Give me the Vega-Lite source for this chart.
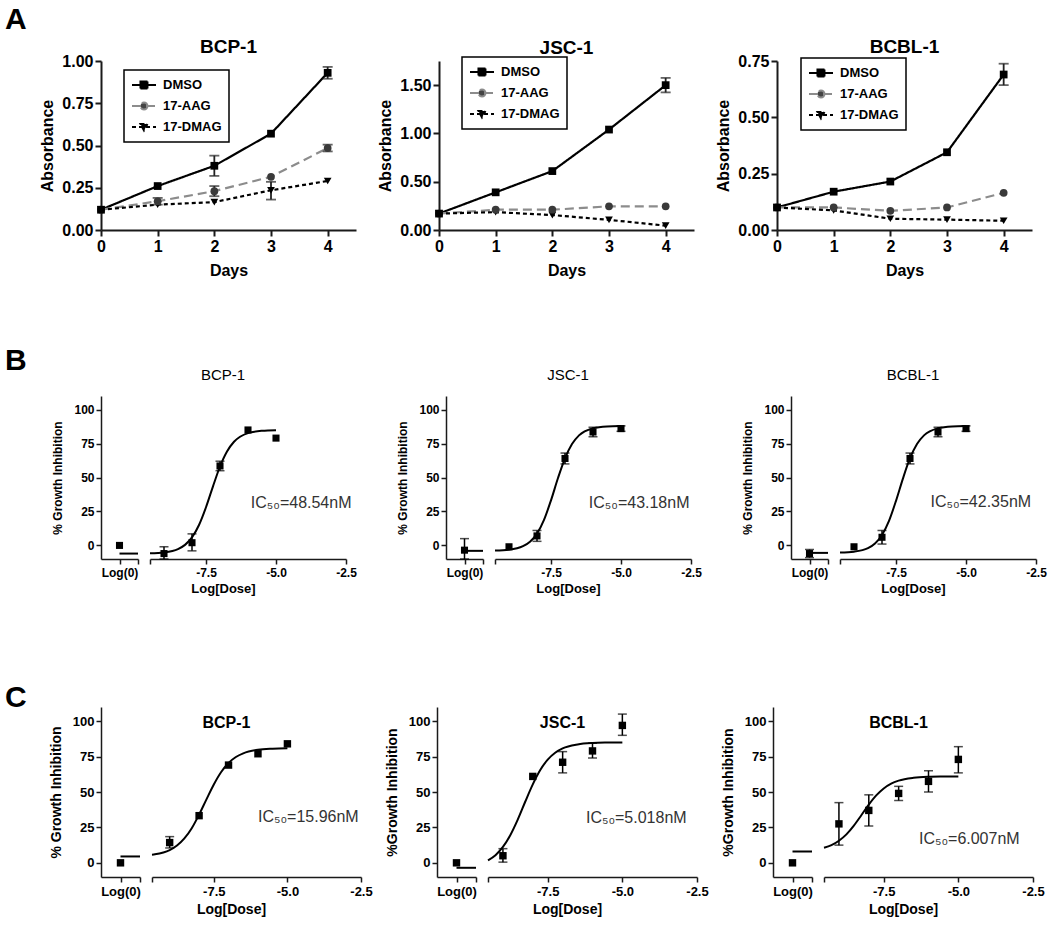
{
  "$schema": "https://vega.github.io/schema/vega-lite/v6.json",
  "background": "white",
  "padding": {"left": 5, "top": 5, "right": 5, "bottom": 5},
  "config": {
    "font": "Liberation Sans",
    "view": {"stroke": null},
    "axis": {"grid": false, "domainColor": "#1a1a1a", "tickColor": "#1a1a1a", "labelColor": "black", "titleColor": "black", "labelFontWeight": "bold", "titleFontWeight": "bold", "labelFlush": false, "labelOverlap": false},
    "title": {"color": "black", "font": "Liberation Sans"},
    "legend": {"labelFont": "Liberation Sans"}
  },
  "datasets": {
    "growth": [
      {"cell": "BCP-1", "trt": "DMSO", "day": 0, "abs": 0.12},
      {"cell": "BCP-1", "trt": "DMSO", "day": 1, "abs": 0.26},
      {"cell": "BCP-1", "trt": "DMSO", "day": 2, "abs": 0.38, "lo": 0.32, "hi": 0.44},
      {"cell": "BCP-1", "trt": "DMSO", "day": 3, "abs": 0.57},
      {"cell": "BCP-1", "trt": "DMSO", "day": 4, "abs": 0.93, "lo": 0.895, "hi": 0.965},
      {"cell": "BCP-1", "trt": "17-AAG", "day": 0, "abs": 0.12},
      {"cell": "BCP-1", "trt": "17-AAG", "day": 1, "abs": 0.17, "lo": 0.15, "hi": 0.19},
      {"cell": "BCP-1", "trt": "17-AAG", "day": 2, "abs": 0.23, "lo": 0.2, "hi": 0.26},
      {"cell": "BCP-1", "trt": "17-AAG", "day": 3, "abs": 0.315},
      {"cell": "BCP-1", "trt": "17-AAG", "day": 4, "abs": 0.485, "lo": 0.465, "hi": 0.505},
      {"cell": "BCP-1", "trt": "17-DMAG", "day": 0, "abs": 0.12},
      {"cell": "BCP-1", "trt": "17-DMAG", "day": 1, "abs": 0.15},
      {"cell": "BCP-1", "trt": "17-DMAG", "day": 2, "abs": 0.165},
      {"cell": "BCP-1", "trt": "17-DMAG", "day": 3, "abs": 0.235, "lo": 0.18, "hi": 0.285},
      {"cell": "BCP-1", "trt": "17-DMAG", "day": 4, "abs": 0.29},
      {"cell": "JSC-1", "trt": "DMSO", "day": 0, "abs": 0.17},
      {"cell": "JSC-1", "trt": "DMSO", "day": 1, "abs": 0.39},
      {"cell": "JSC-1", "trt": "DMSO", "day": 2, "abs": 0.61},
      {"cell": "JSC-1", "trt": "DMSO", "day": 3, "abs": 1.04},
      {"cell": "JSC-1", "trt": "DMSO", "day": 4, "abs": 1.5, "lo": 1.425, "hi": 1.575},
      {"cell": "JSC-1", "trt": "17-AAG", "day": 0, "abs": 0.17},
      {"cell": "JSC-1", "trt": "17-AAG", "day": 1, "abs": 0.21},
      {"cell": "JSC-1", "trt": "17-AAG", "day": 2, "abs": 0.21},
      {"cell": "JSC-1", "trt": "17-AAG", "day": 3, "abs": 0.245},
      {"cell": "JSC-1", "trt": "17-AAG", "day": 4, "abs": 0.245},
      {"cell": "JSC-1", "trt": "17-DMAG", "day": 0, "abs": 0.17},
      {"cell": "JSC-1", "trt": "17-DMAG", "day": 1, "abs": 0.185},
      {"cell": "JSC-1", "trt": "17-DMAG", "day": 2, "abs": 0.155},
      {"cell": "JSC-1", "trt": "17-DMAG", "day": 3, "abs": 0.105},
      {"cell": "JSC-1", "trt": "17-DMAG", "day": 4, "abs": 0.045},
      {"cell": "BCBL-1", "trt": "DMSO", "day": 0, "abs": 0.1},
      {"cell": "BCBL-1", "trt": "DMSO", "day": 1, "abs": 0.17},
      {"cell": "BCBL-1", "trt": "DMSO", "day": 2, "abs": 0.215},
      {"cell": "BCBL-1", "trt": "DMSO", "day": 3, "abs": 0.345},
      {"cell": "BCBL-1", "trt": "DMSO", "day": 4, "abs": 0.69, "lo": 0.643, "hi": 0.738},
      {"cell": "BCBL-1", "trt": "17-AAG", "day": 0, "abs": 0.1},
      {"cell": "BCBL-1", "trt": "17-AAG", "day": 1, "abs": 0.1},
      {"cell": "BCBL-1", "trt": "17-AAG", "day": 2, "abs": 0.085},
      {"cell": "BCBL-1", "trt": "17-AAG", "day": 3, "abs": 0.1},
      {"cell": "BCBL-1", "trt": "17-AAG", "day": 4, "abs": 0.165},
      {"cell": "BCBL-1", "trt": "17-DMAG", "day": 0, "abs": 0.1},
      {"cell": "BCBL-1", "trt": "17-DMAG", "day": 1, "abs": 0.087},
      {"cell": "BCBL-1", "trt": "17-DMAG", "day": 2, "abs": 0.05},
      {"cell": "BCBL-1", "trt": "17-DMAG", "day": 3, "abs": 0.046},
      {"cell": "BCBL-1", "trt": "17-DMAG", "day": 4, "abs": 0.041}
    ],
    "zero": [
      {"panel": "B", "cell": "BCP-1", "y": 0, "fit": -6},
      {"panel": "B", "cell": "JSC-1", "y": -3.5, "lo": -10, "hi": 5, "fit": -4},
      {"panel": "B", "cell": "BCBL-1", "y": -6, "lo": -9, "hi": -3, "fit": -5.5},
      {"panel": "C", "cell": "BCP-1", "y": 0, "fit": 4.5},
      {"panel": "C", "cell": "JSC-1", "y": 0, "fit": -3.5},
      {"panel": "C", "cell": "BCBL-1", "y": 0, "fit": 8}
    ],
    "dose": [
      {"panel": "B", "cell": "BCP-1", "logdose": -9, "y": -6, "lo": -10, "hi": -1},
      {"panel": "B", "cell": "BCP-1", "logdose": -8, "y": 2, "lo": -4, "hi": 8.5},
      {"panel": "B", "cell": "BCP-1", "logdose": -7, "y": 58.5, "lo": 55, "hi": 62},
      {"panel": "B", "cell": "BCP-1", "logdose": -6, "y": 85},
      {"panel": "B", "cell": "BCP-1", "logdose": -5, "y": 79},
      {"panel": "B", "cell": "JSC-1", "logdose": -9, "y": -1},
      {"panel": "B", "cell": "JSC-1", "logdose": -8, "y": 7, "lo": 3, "hi": 11},
      {"panel": "B", "cell": "JSC-1", "logdose": -7, "y": 64, "lo": 60, "hi": 68},
      {"panel": "B", "cell": "JSC-1", "logdose": -6, "y": 83.5, "lo": 80, "hi": 87},
      {"panel": "B", "cell": "JSC-1", "logdose": -5, "y": 86, "lo": 84, "hi": 88},
      {"panel": "B", "cell": "BCBL-1", "logdose": -9, "y": -1},
      {"panel": "B", "cell": "BCBL-1", "logdose": -8, "y": 6, "lo": 1, "hi": 11},
      {"panel": "B", "cell": "BCBL-1", "logdose": -7, "y": 64, "lo": 60, "hi": 68},
      {"panel": "B", "cell": "BCBL-1", "logdose": -6, "y": 83.5, "lo": 80, "hi": 87},
      {"panel": "B", "cell": "BCBL-1", "logdose": -5, "y": 86, "lo": 84, "hi": 88},
      {"panel": "C", "cell": "BCP-1", "logdose": -9, "y": 14.3, "lo": 10.5, "hi": 18.5},
      {"panel": "C", "cell": "BCP-1", "logdose": -8, "y": 33.3},
      {"panel": "C", "cell": "BCP-1", "logdose": -7, "y": 69},
      {"panel": "C", "cell": "BCP-1", "logdose": -6, "y": 77},
      {"panel": "C", "cell": "BCP-1", "logdose": -5, "y": 84},
      {"panel": "C", "cell": "JSC-1", "logdose": -9, "y": 5, "lo": 0.5, "hi": 10},
      {"panel": "C", "cell": "JSC-1", "logdose": -8, "y": 61},
      {"panel": "C", "cell": "JSC-1", "logdose": -7, "y": 71, "lo": 63.5, "hi": 78.5},
      {"panel": "C", "cell": "JSC-1", "logdose": -6, "y": 79, "lo": 74, "hi": 84.5},
      {"panel": "C", "cell": "JSC-1", "logdose": -5, "y": 97, "lo": 90, "hi": 105},
      {"panel": "C", "cell": "BCBL-1", "logdose": -9, "y": 27.5, "lo": 12.5, "hi": 42.5},
      {"panel": "C", "cell": "BCBL-1", "logdose": -8, "y": 37, "lo": 26, "hi": 48},
      {"panel": "C", "cell": "BCBL-1", "logdose": -7, "y": 49, "lo": 44, "hi": 54},
      {"panel": "C", "cell": "BCBL-1", "logdose": -6, "y": 57.5, "lo": 50, "hi": 65},
      {"panel": "C", "cell": "BCBL-1", "logdose": -5, "y": 73, "lo": 63.5, "hi": 82}
    ],
    "fit": [
      {"panel": "B", "cell": "BCP-1", "logdose": -9.5, "y": -5.8},
      {"panel": "B", "cell": "BCP-1", "logdose": -9, "y": -5.15},
      {"panel": "B", "cell": "BCP-1", "logdose": -8.5, "y": -2.7},
      {"panel": "B", "cell": "BCP-1", "logdose": -8.25, "y": 0.4},
      {"panel": "B", "cell": "BCP-1", "logdose": -8, "y": 5.9},
      {"panel": "B", "cell": "BCP-1", "logdose": -7.75, "y": 15},
      {"panel": "B", "cell": "BCP-1", "logdose": -7.5, "y": 28.1},
      {"panel": "B", "cell": "BCP-1", "logdose": -7.25, "y": 43.5},
      {"panel": "B", "cell": "BCP-1", "logdose": -7, "y": 58.1},
      {"panel": "B", "cell": "BCP-1", "logdose": -6.75, "y": 69.2},
      {"panel": "B", "cell": "BCP-1", "logdose": -6.5, "y": 76.3},
      {"panel": "B", "cell": "BCP-1", "logdose": -6, "y": 82.7},
      {"panel": "B", "cell": "BCP-1", "logdose": -5.5, "y": 84.4},
      {"panel": "B", "cell": "BCP-1", "logdose": -5, "y": 84.85},
      {"panel": "B", "cell": "JSC-1", "logdose": -9.5, "y": -3.8},
      {"panel": "B", "cell": "JSC-1", "logdose": -9, "y": -3.2},
      {"panel": "B", "cell": "JSC-1", "logdose": -8.5, "y": -0.6},
      {"panel": "B", "cell": "JSC-1", "logdose": -8.25, "y": 2.7},
      {"panel": "B", "cell": "JSC-1", "logdose": -8, "y": 8.7},
      {"panel": "B", "cell": "JSC-1", "logdose": -7.75, "y": 18.8},
      {"panel": "B", "cell": "JSC-1", "logdose": -7.5, "y": 33.2},
      {"panel": "B", "cell": "JSC-1", "logdose": -7.25, "y": 49.6},
      {"panel": "B", "cell": "JSC-1", "logdose": -7, "y": 64.1},
      {"panel": "B", "cell": "JSC-1", "logdose": -6.75, "y": 74.6},
      {"panel": "B", "cell": "JSC-1", "logdose": -6.5, "y": 81},
      {"panel": "B", "cell": "JSC-1", "logdose": -6, "y": 86.2},
      {"panel": "B", "cell": "JSC-1", "logdose": -5.5, "y": 87.6},
      {"panel": "B", "cell": "JSC-1", "logdose": -5, "y": 87.9},
      {"panel": "B", "cell": "BCBL-1", "logdose": -9.5, "y": -5.3},
      {"panel": "B", "cell": "BCBL-1", "logdose": -9, "y": -4.6},
      {"panel": "B", "cell": "BCBL-1", "logdose": -8.5, "y": -2},
      {"panel": "B", "cell": "BCBL-1", "logdose": -8.25, "y": 1.4},
      {"panel": "B", "cell": "BCBL-1", "logdose": -8, "y": 7.7},
      {"panel": "B", "cell": "BCBL-1", "logdose": -7.75, "y": 18.1},
      {"panel": "B", "cell": "BCBL-1", "logdose": -7.5, "y": 32.8},
      {"panel": "B", "cell": "BCBL-1", "logdose": -7.25, "y": 49.4},
      {"panel": "B", "cell": "BCBL-1", "logdose": -7, "y": 64.2},
      {"panel": "B", "cell": "BCBL-1", "logdose": -6.75, "y": 74.7},
      {"panel": "B", "cell": "BCBL-1", "logdose": -6.5, "y": 81},
      {"panel": "B", "cell": "BCBL-1", "logdose": -6, "y": 86.2},
      {"panel": "B", "cell": "BCBL-1", "logdose": -5.5, "y": 87.6},
      {"panel": "B", "cell": "BCBL-1", "logdose": -5, "y": 87.9},
      {"panel": "C", "cell": "BCP-1", "logdose": -9.6, "y": 5.7},
      {"panel": "C", "cell": "BCP-1", "logdose": -9.5, "y": 6},
      {"panel": "C", "cell": "BCP-1", "logdose": -9, "y": 9},
      {"panel": "C", "cell": "BCP-1", "logdose": -8.75, "y": 12.2},
      {"panel": "C", "cell": "BCP-1", "logdose": -8.5, "y": 17.2},
      {"panel": "C", "cell": "BCP-1", "logdose": -8.25, "y": 24.4},
      {"panel": "C", "cell": "BCP-1", "logdose": -8, "y": 34},
      {"panel": "C", "cell": "BCP-1", "logdose": -7.75, "y": 44.8},
      {"panel": "C", "cell": "BCP-1", "logdose": -7.5, "y": 55.3},
      {"panel": "C", "cell": "BCP-1", "logdose": -7.25, "y": 64.1},
      {"panel": "C", "cell": "BCP-1", "logdose": -7, "y": 70.5},
      {"panel": "C", "cell": "BCP-1", "logdose": -6.75, "y": 74.7},
      {"panel": "C", "cell": "BCP-1", "logdose": -6.5, "y": 77.3},
      {"panel": "C", "cell": "BCP-1", "logdose": -6, "y": 79.8},
      {"panel": "C", "cell": "BCP-1", "logdose": -5.5, "y": 80.6},
      {"panel": "C", "cell": "BCP-1", "logdose": -5, "y": 80.9},
      {"panel": "C", "cell": "JSC-1", "logdose": -9.5, "y": 1.75},
      {"panel": "C", "cell": "JSC-1", "logdose": -9.25, "y": 5.4},
      {"panel": "C", "cell": "JSC-1", "logdose": -9, "y": 11.2},
      {"panel": "C", "cell": "JSC-1", "logdose": -8.75, "y": 19.7},
      {"panel": "C", "cell": "JSC-1", "logdose": -8.5, "y": 30.7},
      {"panel": "C", "cell": "JSC-1", "logdose": -8.25, "y": 43.3},
      {"panel": "C", "cell": "JSC-1", "logdose": -8, "y": 55.4},
      {"panel": "C", "cell": "JSC-1", "logdose": -7.75, "y": 65.5},
      {"panel": "C", "cell": "JSC-1", "logdose": -7.5, "y": 72.9},
      {"panel": "C", "cell": "JSC-1", "logdose": -7.25, "y": 77.75},
      {"panel": "C", "cell": "JSC-1", "logdose": -7, "y": 80.8},
      {"panel": "C", "cell": "JSC-1", "logdose": -6.5, "y": 83.6},
      {"panel": "C", "cell": "JSC-1", "logdose": -6, "y": 84.6},
      {"panel": "C", "cell": "JSC-1", "logdose": -5.5, "y": 84.9},
      {"panel": "C", "cell": "JSC-1", "logdose": -5, "y": 85},
      {"panel": "C", "cell": "BCBL-1", "logdose": -9.5, "y": 10.65},
      {"panel": "C", "cell": "BCBL-1", "logdose": -9.25, "y": 12.5},
      {"panel": "C", "cell": "BCBL-1", "logdose": -9, "y": 15.6},
      {"panel": "C", "cell": "BCBL-1", "logdose": -8.75, "y": 20.1},
      {"panel": "C", "cell": "BCBL-1", "logdose": -8.5, "y": 26.3},
      {"panel": "C", "cell": "BCBL-1", "logdose": -8.25, "y": 33.6},
      {"panel": "C", "cell": "BCBL-1", "logdose": -8, "y": 41.1},
      {"panel": "C", "cell": "BCBL-1", "logdose": -7.75, "y": 47.6},
      {"panel": "C", "cell": "BCBL-1", "logdose": -7.5, "y": 52.5},
      {"panel": "C", "cell": "BCBL-1", "logdose": -7.25, "y": 55.9},
      {"panel": "C", "cell": "BCBL-1", "logdose": -7, "y": 58},
      {"panel": "C", "cell": "BCBL-1", "logdose": -6.5, "y": 60},
      {"panel": "C", "cell": "BCBL-1", "logdose": -6, "y": 60.7},
      {"panel": "C", "cell": "BCBL-1", "logdose": -5.5, "y": 60.9},
      {"panel": "C", "cell": "BCBL-1", "logdose": -5, "y": 61}
    ],
    "ic50": [
      {"panel": "B", "cell": "BCP-1", "label": "IC₅₀=48.54nM"},
      {"panel": "B", "cell": "JSC-1", "label": "IC₅₀=43.18nM"},
      {"panel": "B", "cell": "BCBL-1", "label": "IC₅₀=42.35nM"},
      {"panel": "C", "cell": "BCP-1", "label": "IC₅₀=15.96nM"},
      {"panel": "C", "cell": "JSC-1", "label": "IC₅₀=5.018nM"},
      {"panel": "C", "cell": "BCBL-1", "label": "IC₅₀=6.007nM"}
    ]
  },
  "vconcat": [
    {
      "vconcat": [
        {
          "title": {"text": "A", "anchor": "start", "frame": "group", "fontSize": 30, "fontWeight": "bold", "dx": -96, "offset": 3},
          "spacing": 83,
          "bounds": "flush",
          "resolve": {"scale": {"color": "independent", "strokeDash": "independent"}},
          "hconcat": [
            {
              "width": 255, "height": 169,
              "title": {"text": "BCP-1", "fontSize": 19, "fontWeight": "bold", "offset": -4, "frame": "group"},
              "data": {"name": "growth"},
              "transform": [{"filter": "datum.cell === 'BCP-1'"}],
              "layer": [
                {"mark": {"type": "line", "strokeWidth": 2.2},
                 "encoding": {
                   "x": {"field": "day", "type": "quantitative", "scale": {"domain": [0, 4.5], "nice": false}, "axis": {"values": [0, 1, 2, 3, 4], "title": "Days", "format": "d", "labelFontSize": 16, "titleFontSize": 16, "tickSize": 6, "tickWidth": 2, "domainWidth": 2, "labelPadding": 2, "titlePadding": 8}},
                   "y": {"field": "abs", "type": "quantitative", "title": "Absorbance", "scale": {"domain": [0, 1], "nice": false}, "axis": {"values": [0, 0.25, 0.5, 0.75, 1], "format": ".2f", "labelOverlap": false, "labelFontSize": 16, "titleFontSize": 16, "tickSize": 6, "tickWidth": 2, "domainWidth": 2, "labelPadding": 2, "titlePadding": 6}},
                   "color": {"field": "trt", "type": "nominal", "scale": {"domain": ["DMSO", "17-AAG", "17-DMAG"], "range": ["black", "#8c8c8c", "black"]},
                     "legend": {"title": null, "orient": "none", "legendX": 23, "legendY": 9, "strokeColor": "black", "padding": 7, "rowPadding": 5, "labelOffset": 16, "labelFontSize": 13, "labelFontWeight": "bold", "labelColor": "black", "symbolSize": 196,
                       "encode": {"legend": {"update": {"strokeWidth": {"value": 1.5}}}, "symbols": {"update": {
                         "shape": {"signal": "datum.value === 'DMSO' ? 'M-1,0H2.43M0.21,-0.5H1.21V0.5H0.21Z' : datum.value === '17-AAG' ? 'M-1,0H2.43M1.21,0A0.5,0.5 0 1,1 0.21,0A0.5,0.5 0 1,1 1.21,0Z' : 'M-1,0H2.43M0.21,-0.42H1.21L0.71,0.5Z'"},
                         "fill": {"signal": "datum.value === '17-AAG' ? '#444' : 'black'"},
                         "strokeWidth": {"value": 2}, "opacity": {"value": 1}}}}}},
                   "strokeDash": {"field": "trt", "type": "nominal", "scale": {"domain": ["DMSO", "17-AAG", "17-DMAG"], "range": [[1, 0], [9, 5], [4, 3]]}, "legend": null}
                 }},
                {"transform": [{"filter": "isValid(datum.lo)"}],
                 "mark": {"type": "errorbar", "ticks": {"size": 10, "thickness": 1.8}, "thickness": 1.8, "color": "#222"},
                 "encoding": {"x": {"field": "day", "type": "quantitative"}, "y": {"field": "lo", "type": "quantitative", "title": "Absorbance"}, "y2": {"field": "hi"}}},
                {"transform": [{"filter": "datum.trt === '17-DMAG'"}], "mark": {"type": "point", "shape": "triangle-down", "filled": true, "size": 60, "color": "black", "opacity": 1},
                 "encoding": {"x": {"field": "day", "type": "quantitative"}, "y": {"field": "abs", "type": "quantitative", "title": "Absorbance"}}},
                {"transform": [{"filter": "datum.trt === '17-AAG'"}], "mark": {"type": "point", "shape": "circle", "filled": true, "size": 60, "color": "#3a3a3a", "opacity": 1},
                 "encoding": {"x": {"field": "day", "type": "quantitative"}, "y": {"field": "abs", "type": "quantitative", "title": "Absorbance"}}},
                {"transform": [{"filter": "datum.trt === 'DMSO'"}], "mark": {"type": "point", "shape": "square", "filled": true, "size": 60, "color": "black", "opacity": 1},
                 "encoding": {"x": {"field": "day", "type": "quantitative"}, "y": {"field": "abs", "type": "quantitative", "title": "Absorbance"}}}
              ]
            },
            {
              "width": 255, "height": 169,
              "title": {"text": "JSC-1", "fontSize": 19, "fontWeight": "bold", "offset": -2, "frame": "group"},
              "data": {"name": "growth"},
              "transform": [{"filter": "datum.cell === 'JSC-1'"}],
              "layer": [
                {"mark": {"type": "line", "strokeWidth": 2.2},
                 "encoding": {
                   "x": {"field": "day", "type": "quantitative", "scale": {"domain": [0, 4.5], "nice": false}, "axis": {"values": [0, 1, 2, 3, 4], "title": "Days", "format": "d", "labelFontSize": 16, "titleFontSize": 16, "tickSize": 6, "tickWidth": 2, "domainWidth": 2, "labelPadding": 2, "titlePadding": 8}},
                   "y": {"field": "abs", "type": "quantitative", "title": "Absorbance", "scale": {"domain": [0, 1.75], "nice": false}, "axis": {"values": [0, 0.25, 0.5, 0.75, 1, 1.25, 1.5, 1.75], "format": ".2f", "labelOverlap": false, "labelFontSize": 16, "titleFontSize": 16, "tickSize": 6, "tickWidth": 2, "domainWidth": 2, "labelPadding": 2, "titlePadding": 6}},
                   "color": {"field": "trt", "type": "nominal", "scale": {"domain": ["DMSO", "17-AAG", "17-DMAG"], "range": ["black", "#8c8c8c", "black"]},
                     "legend": {"title": null, "orient": "none", "legendX": 23, "legendY": -4, "strokeColor": "black", "padding": 7, "rowPadding": 5, "labelOffset": 16, "labelFontSize": 13, "labelFontWeight": "bold", "labelColor": "black", "symbolSize": 196,
                       "encode": {"legend": {"update": {"strokeWidth": {"value": 1.5}}}, "symbols": {"update": {
                         "shape": {"signal": "datum.value === 'DMSO' ? 'M-1,0H2.43M0.21,-0.5H1.21V0.5H0.21Z' : datum.value === '17-AAG' ? 'M-1,0H2.43M1.21,0A0.5,0.5 0 1,1 0.21,0A0.5,0.5 0 1,1 1.21,0Z' : 'M-1,0H2.43M0.21,-0.42H1.21L0.71,0.5Z'"},
                         "fill": {"signal": "datum.value === '17-AAG' ? '#444' : 'black'"},
                         "strokeWidth": {"value": 2}, "opacity": {"value": 1}}}}}},
                   "strokeDash": {"field": "trt", "type": "nominal", "scale": {"domain": ["DMSO", "17-AAG", "17-DMAG"], "range": [[1, 0], [9, 5], [4, 3]]}, "legend": null}
                 }},
                {"transform": [{"filter": "isValid(datum.lo)"}],
                 "mark": {"type": "errorbar", "ticks": {"size": 10, "thickness": 1.8}, "thickness": 1.8, "color": "#222"},
                 "encoding": {"x": {"field": "day", "type": "quantitative"}, "y": {"field": "lo", "type": "quantitative", "title": "Absorbance"}, "y2": {"field": "hi"}}},
                {"transform": [{"filter": "datum.trt === '17-DMAG'"}], "mark": {"type": "point", "shape": "triangle-down", "filled": true, "size": 60, "color": "black", "opacity": 1},
                 "encoding": {"x": {"field": "day", "type": "quantitative"}, "y": {"field": "abs", "type": "quantitative", "title": "Absorbance"}}},
                {"transform": [{"filter": "datum.trt === '17-AAG'"}], "mark": {"type": "point", "shape": "circle", "filled": true, "size": 60, "color": "#3a3a3a", "opacity": 1},
                 "encoding": {"x": {"field": "day", "type": "quantitative"}, "y": {"field": "abs", "type": "quantitative", "title": "Absorbance"}}},
                {"transform": [{"filter": "datum.trt === 'DMSO'"}], "mark": {"type": "point", "shape": "square", "filled": true, "size": 60, "color": "black", "opacity": 1},
                 "encoding": {"x": {"field": "day", "type": "quantitative"}, "y": {"field": "abs", "type": "quantitative", "title": "Absorbance"}}}
              ]
            },
            {
              "width": 255, "height": 169,
              "title": {"text": "BCBL-1", "fontSize": 19, "fontWeight": "bold", "offset": -4, "frame": "group"},
              "data": {"name": "growth"},
              "transform": [{"filter": "datum.cell === 'BCBL-1'"}],
              "layer": [
                {"mark": {"type": "line", "strokeWidth": 2.2},
                 "encoding": {
                   "x": {"field": "day", "type": "quantitative", "scale": {"domain": [0, 4.5], "nice": false}, "axis": {"values": [0, 1, 2, 3, 4], "title": "Days", "format": "d", "labelFontSize": 16, "titleFontSize": 16, "tickSize": 6, "tickWidth": 2, "domainWidth": 2, "labelPadding": 2, "titlePadding": 8}},
                   "y": {"field": "abs", "type": "quantitative", "title": "Absorbance", "scale": {"domain": [0, 0.75], "nice": false}, "axis": {"values": [0, 0.25, 0.5, 0.75], "format": ".2f", "labelOverlap": false, "labelFontSize": 16, "titleFontSize": 16, "tickSize": 6, "tickWidth": 2, "domainWidth": 2, "labelPadding": 2, "titlePadding": 6}},
                   "color": {"field": "trt", "type": "nominal", "scale": {"domain": ["DMSO", "17-AAG", "17-DMAG"], "range": ["black", "#8c8c8c", "black"]},
                     "legend": {"title": null, "orient": "none", "legendX": 24, "legendY": -3, "strokeColor": "black", "padding": 7, "rowPadding": 5, "labelOffset": 16, "labelFontSize": 13, "labelFontWeight": "bold", "labelColor": "black", "symbolSize": 196,
                       "encode": {"legend": {"update": {"strokeWidth": {"value": 1.5}}}, "symbols": {"update": {
                         "shape": {"signal": "datum.value === 'DMSO' ? 'M-1,0H2.43M0.21,-0.5H1.21V0.5H0.21Z' : datum.value === '17-AAG' ? 'M-1,0H2.43M1.21,0A0.5,0.5 0 1,1 0.21,0A0.5,0.5 0 1,1 1.21,0Z' : 'M-1,0H2.43M0.21,-0.42H1.21L0.71,0.5Z'"},
                         "fill": {"signal": "datum.value === '17-AAG' ? '#444' : 'black'"},
                         "strokeWidth": {"value": 2}, "opacity": {"value": 1}}}}}},
                   "strokeDash": {"field": "trt", "type": "nominal", "scale": {"domain": ["DMSO", "17-AAG", "17-DMAG"], "range": [[1, 0], [9, 5], [4, 3]]}, "legend": null}
                 }},
                {"transform": [{"filter": "isValid(datum.lo)"}],
                 "mark": {"type": "errorbar", "ticks": {"size": 10, "thickness": 1.8}, "thickness": 1.8, "color": "#222"},
                 "encoding": {"x": {"field": "day", "type": "quantitative"}, "y": {"field": "lo", "type": "quantitative", "title": "Absorbance"}, "y2": {"field": "hi"}}},
                {"transform": [{"filter": "datum.trt === '17-DMAG'"}], "mark": {"type": "point", "shape": "triangle-down", "filled": true, "size": 60, "color": "black", "opacity": 1},
                 "encoding": {"x": {"field": "day", "type": "quantitative"}, "y": {"field": "abs", "type": "quantitative", "title": "Absorbance"}}},
                {"transform": [{"filter": "datum.trt === '17-AAG'"}], "mark": {"type": "point", "shape": "circle", "filled": true, "size": 60, "color": "#3a3a3a", "opacity": 1},
                 "encoding": {"x": {"field": "day", "type": "quantitative"}, "y": {"field": "abs", "type": "quantitative", "title": "Absorbance"}}},
                {"transform": [{"filter": "datum.trt === 'DMSO'"}], "mark": {"type": "point", "shape": "square", "filled": true, "size": 60, "color": "black", "opacity": 1},
                 "encoding": {"x": {"field": "day", "type": "quantitative"}, "y": {"field": "abs", "type": "quantitative", "title": "Absorbance"}}}
              ]
            }
          ]
        },
        {
          "title": {"text": "B", "anchor": "start", "frame": "group", "fontSize": 30, "fontWeight": "bold", "dx": -96, "offset": -8},
          "spacing": 39,
          "hconcat": [
            {
              "spacing": 12, "bounds": "flush",
              "hconcat": [
                {
                  "width": 37, "height": 163,
                  "data": {"name": "zero"},
                  "transform": [{"filter": "datum.panel === 'B' && datum.cell === 'BCP-1'"}],
                  "layer": [
                    {"mark": {"type": "rule", "strokeWidth": 2, "color": "black"},
                     "encoding": {
                       "x": {"datum": 0.5, "type": "quantitative", "scale": {"domain": [0, 1], "nice": false, "zero": false}, "axis": {"values": [0.5, 1], "labelExpr": "datum.value == 0.5 ? 'Log(0)' : ''", "title": null, "labelFontSize": 12, "tickSize": 5, "tickWidth": 1.5, "domainWidth": 1.5, "labelPadding": 3}},
                       "x2": {"datum": 1},
                       "y": {"field": "fit", "type": "quantitative", "title": "% Growth Inhibition", "scale": {"domain": [-10, 110], "nice": false}, "axis": {"values": [0, 25, 50, 75, 100], "titleFontSize": 12, "labelFontSize": 12, "tickSize": 5, "tickWidth": 1.5, "domainWidth": 1.5, "labelPadding": 2, "titlePadding": 9}}}},
                    {"transform": [{"filter": "isValid(datum.lo)"}],
                     "mark": {"type": "errorbar", "ticks": {"size": 9, "thickness": 1.5}, "thickness": 1.5, "color": "black"},
                     "encoding": {"x": {"datum": 0.5, "type": "quantitative"}, "y": {"field": "lo", "type": "quantitative", "title": "% Growth Inhibition"}, "y2": {"field": "hi"}}},
                    {"mark": {"type": "square", "size": 50, "color": "black", "opacity": 1},
                     "encoding": {"x": {"datum": 0.5, "type": "quantitative"}, "y": {"field": "y", "type": "quantitative", "title": "% Growth Inhibition"}}}
                  ]
                },
                {
                  "width": 196, "height": 163,
                  "title": {"text": "BCP-1", "fontSize": 15, "fontWeight": "normal", "offset": 13, "frame": "group", "dx": -25},
                  "layer": [
                    {"data": {"name": "fit"}, "transform": [{"filter": "datum.panel === 'B' && datum.cell === 'BCP-1'"}],
                     "mark": {"type": "line", "strokeWidth": 2, "color": "black", "interpolate": "monotone"},
                     "encoding": {
                       "x": {"field": "logdose", "type": "quantitative", "scale": {"domain": [-9.5, -2.5], "nice": false, "zero": false}, "axis": {"values": [-9.5, -7.5, -5, -2.5], "labelExpr": "datum.value == -7.5 ? '-7.5' : datum.value == -5 ? '-5.0' : datum.value == -2.5 ? '-2.5' : ''", "title": "Log[Dose]", "titleFontSize": 13, "titleX": 73, "titlePadding": 4, "labelFontSize": 12, "tickSize": 5, "tickWidth": 1.5, "domainWidth": 1.5, "labelPadding": 3}},
                       "y": {"field": "y", "type": "quantitative", "scale": {"domain": [-10, 110], "nice": false}, "axis": null}}},
                    {"data": {"name": "dose"}, "transform": [{"filter": "datum.panel === 'B' && datum.cell === 'BCP-1' && isValid(datum.lo)"}],
                     "mark": {"type": "errorbar", "ticks": {"size": 9, "thickness": 1.5}, "thickness": 1.5, "color": "black"},
                     "encoding": {"x": {"field": "logdose", "type": "quantitative"}, "y": {"field": "lo", "type": "quantitative"}, "y2": {"field": "hi"}}},
                    {"data": {"name": "dose"}, "transform": [{"filter": "datum.panel === 'B' && datum.cell === 'BCP-1'"}],
                     "mark": {"type": "square", "size": 50, "color": "black", "opacity": 1},
                     "encoding": {"x": {"field": "logdose", "type": "quantitative"}, "y": {"field": "y", "type": "quantitative"}}},
                    {"data": {"name": "ic50"}, "transform": [{"filter": "datum.panel === 'B' && datum.cell === 'BCP-1'"}],
                     "mark": {"type": "text", "align": "left", "baseline": "middle", "fontSize": 16, "color": "#333"},
                     "encoding": {"x": {"datum": -5.9, "type": "quantitative"}, "y": {"datum": 31, "type": "quantitative"}, "text": {"field": "label"}}}
                  ]
                }
              ]
            },
            {
              "spacing": 12, "bounds": "flush",
              "hconcat": [
                {
                  "width": 37, "height": 163,
                  "data": {"name": "zero"},
                  "transform": [{"filter": "datum.panel === 'B' && datum.cell === 'JSC-1'"}],
                  "layer": [
                    {"mark": {"type": "rule", "strokeWidth": 2, "color": "black"},
                     "encoding": {
                       "x": {"datum": 0.5, "type": "quantitative", "scale": {"domain": [0, 1], "nice": false, "zero": false}, "axis": {"values": [0.5, 1], "labelExpr": "datum.value == 0.5 ? 'Log(0)' : ''", "title": null, "labelFontSize": 12, "tickSize": 5, "tickWidth": 1.5, "domainWidth": 1.5, "labelPadding": 3}},
                       "x2": {"datum": 1},
                       "y": {"field": "fit", "type": "quantitative", "title": "% Growth Inhibition", "scale": {"domain": [-10, 110], "nice": false}, "axis": {"values": [0, 25, 50, 75, 100], "titleFontSize": 12, "labelFontSize": 12, "tickSize": 5, "tickWidth": 1.5, "domainWidth": 1.5, "labelPadding": 2, "titlePadding": 9}}}},
                    {"transform": [{"filter": "isValid(datum.lo)"}],
                     "mark": {"type": "errorbar", "ticks": {"size": 9, "thickness": 1.5}, "thickness": 1.5, "color": "black"},
                     "encoding": {"x": {"datum": 0.5, "type": "quantitative"}, "y": {"field": "lo", "type": "quantitative", "title": "% Growth Inhibition"}, "y2": {"field": "hi"}}},
                    {"mark": {"type": "square", "size": 50, "color": "black", "opacity": 1},
                     "encoding": {"x": {"datum": 0.5, "type": "quantitative"}, "y": {"field": "y", "type": "quantitative", "title": "% Growth Inhibition"}}}
                  ]
                },
                {
                  "width": 196, "height": 163,
                  "title": {"text": "JSC-1", "fontSize": 15, "fontWeight": "normal", "offset": 13, "frame": "group", "dx": -25},
                  "layer": [
                    {"data": {"name": "fit"}, "transform": [{"filter": "datum.panel === 'B' && datum.cell === 'JSC-1'"}],
                     "mark": {"type": "line", "strokeWidth": 2, "color": "black", "interpolate": "monotone"},
                     "encoding": {
                       "x": {"field": "logdose", "type": "quantitative", "scale": {"domain": [-9.5, -2.5], "nice": false, "zero": false}, "axis": {"values": [-9.5, -7.5, -5, -2.5], "labelExpr": "datum.value == -7.5 ? '-7.5' : datum.value == -5 ? '-5.0' : datum.value == -2.5 ? '-2.5' : ''", "title": "Log[Dose]", "titleFontSize": 13, "titleX": 73, "titlePadding": 4, "labelFontSize": 12, "tickSize": 5, "tickWidth": 1.5, "domainWidth": 1.5, "labelPadding": 3}},
                       "y": {"field": "y", "type": "quantitative", "scale": {"domain": [-10, 110], "nice": false}, "axis": null}}},
                    {"data": {"name": "dose"}, "transform": [{"filter": "datum.panel === 'B' && datum.cell === 'JSC-1' && isValid(datum.lo)"}],
                     "mark": {"type": "errorbar", "ticks": {"size": 9, "thickness": 1.5}, "thickness": 1.5, "color": "black"},
                     "encoding": {"x": {"field": "logdose", "type": "quantitative"}, "y": {"field": "lo", "type": "quantitative"}, "y2": {"field": "hi"}}},
                    {"data": {"name": "dose"}, "transform": [{"filter": "datum.panel === 'B' && datum.cell === 'JSC-1'"}],
                     "mark": {"type": "square", "size": 50, "color": "black", "opacity": 1},
                     "encoding": {"x": {"field": "logdose", "type": "quantitative"}, "y": {"field": "y", "type": "quantitative"}}},
                    {"data": {"name": "ic50"}, "transform": [{"filter": "datum.panel === 'B' && datum.cell === 'JSC-1'"}],
                     "mark": {"type": "text", "align": "left", "baseline": "middle", "fontSize": 16, "color": "#333"},
                     "encoding": {"x": {"datum": -6.15, "type": "quantitative"}, "y": {"datum": 31, "type": "quantitative"}, "text": {"field": "label"}}}
                  ]
                }
              ]
            },
            {
              "spacing": 12, "bounds": "flush",
              "hconcat": [
                {
                  "width": 37, "height": 163,
                  "data": {"name": "zero"},
                  "transform": [{"filter": "datum.panel === 'B' && datum.cell === 'BCBL-1'"}],
                  "layer": [
                    {"mark": {"type": "rule", "strokeWidth": 2, "color": "black"},
                     "encoding": {
                       "x": {"datum": 0.5, "type": "quantitative", "scale": {"domain": [0, 1], "nice": false, "zero": false}, "axis": {"values": [0.5, 1], "labelExpr": "datum.value == 0.5 ? 'Log(0)' : ''", "title": null, "labelFontSize": 12, "tickSize": 5, "tickWidth": 1.5, "domainWidth": 1.5, "labelPadding": 3}},
                       "x2": {"datum": 1},
                       "y": {"field": "fit", "type": "quantitative", "title": "% Growth Inhibition", "scale": {"domain": [-10, 110], "nice": false}, "axis": {"values": [0, 25, 50, 75, 100], "titleFontSize": 12, "labelFontSize": 12, "tickSize": 5, "tickWidth": 1.5, "domainWidth": 1.5, "labelPadding": 2, "titlePadding": 9}}}},
                    {"transform": [{"filter": "isValid(datum.lo)"}],
                     "mark": {"type": "errorbar", "ticks": {"size": 9, "thickness": 1.5}, "thickness": 1.5, "color": "black"},
                     "encoding": {"x": {"datum": 0.5, "type": "quantitative"}, "y": {"field": "lo", "type": "quantitative", "title": "% Growth Inhibition"}, "y2": {"field": "hi"}}},
                    {"mark": {"type": "square", "size": 50, "color": "black", "opacity": 1},
                     "encoding": {"x": {"datum": 0.5, "type": "quantitative"}, "y": {"field": "y", "type": "quantitative", "title": "% Growth Inhibition"}}}
                  ]
                },
                {
                  "width": 196, "height": 163,
                  "title": {"text": "BCBL-1", "fontSize": 15, "fontWeight": "normal", "offset": 13, "frame": "group", "dx": -25},
                  "layer": [
                    {"data": {"name": "fit"}, "transform": [{"filter": "datum.panel === 'B' && datum.cell === 'BCBL-1'"}],
                     "mark": {"type": "line", "strokeWidth": 2, "color": "black", "interpolate": "monotone"},
                     "encoding": {
                       "x": {"field": "logdose", "type": "quantitative", "scale": {"domain": [-9.5, -2.5], "nice": false, "zero": false}, "axis": {"values": [-9.5, -7.5, -5, -2.5], "labelExpr": "datum.value == -7.5 ? '-7.5' : datum.value == -5 ? '-5.0' : datum.value == -2.5 ? '-2.5' : ''", "title": "Log[Dose]", "titleFontSize": 13, "titleX": 73, "titlePadding": 4, "labelFontSize": 12, "tickSize": 5, "tickWidth": 1.5, "domainWidth": 1.5, "labelPadding": 3}},
                       "y": {"field": "y", "type": "quantitative", "scale": {"domain": [-10, 110], "nice": false}, "axis": null}}},
                    {"data": {"name": "dose"}, "transform": [{"filter": "datum.panel === 'B' && datum.cell === 'BCBL-1' && isValid(datum.lo)"}],
                     "mark": {"type": "errorbar", "ticks": {"size": 9, "thickness": 1.5}, "thickness": 1.5, "color": "black"},
                     "encoding": {"x": {"field": "logdose", "type": "quantitative"}, "y": {"field": "lo", "type": "quantitative"}, "y2": {"field": "hi"}}},
                    {"data": {"name": "dose"}, "transform": [{"filter": "datum.panel === 'B' && datum.cell === 'BCBL-1'"}],
                     "mark": {"type": "square", "size": 50, "color": "black", "opacity": 1},
                     "encoding": {"x": {"field": "logdose", "type": "quantitative"}, "y": {"field": "y", "type": "quantitative"}}},
                    {"data": {"name": "ic50"}, "transform": [{"filter": "datum.panel === 'B' && datum.cell === 'BCBL-1'"}],
                     "mark": {"type": "text", "align": "left", "baseline": "middle", "fontSize": 16, "color": "#333"},
                     "encoding": {"x": {"datum": -6.27, "type": "quantitative"}, "y": {"datum": 31.8, "type": "quantitative"}, "text": {"field": "label"}}}
                  ]
                }
              ]
            }
          ]
        }
      ],
      "spacing": 68
    },
    {
      "title": {"text": "C", "anchor": "start", "frame": "group", "fontSize": 30, "fontWeight": "bold", "dx": -96, "offset": -6},
      "spacing": 12,
      "hconcat": [
        {
          "spacing": 12, "bounds": "flush",
          "hconcat": [
            {
              "width": 39, "height": 170,
              "data": {"name": "zero"},
              "transform": [{"filter": "datum.panel === 'C' && datum.cell === 'BCP-1'"}],
              "layer": [
                {"mark": {"type": "rule", "strokeWidth": 2, "color": "black"},
                 "encoding": {
                   "x": {"datum": 0.5, "type": "quantitative", "scale": {"domain": [0, 1], "nice": false, "zero": false}, "axis": {"values": [0.5, 1], "labelExpr": "datum.value == 0.5 ? 'Log(0)' : ''", "title": null, "labelFontSize": 13, "tickSize": 5, "tickWidth": 1.5, "domainWidth": 1.5, "labelPadding": 3}},
                   "x2": {"datum": 1},
                   "y": {"field": "fit", "type": "quantitative", "title": "% Growth Inhibition", "scale": {"domain": [-10, 110], "nice": false}, "axis": {"values": [0, 25, 50, 75, 100], "titleFontSize": 14, "labelFontSize": 13, "tickSize": 5, "tickWidth": 1.5, "domainWidth": 1.5, "labelPadding": 2, "titlePadding": 9}}}},
                {"mark": {"type": "square", "size": 55, "color": "black", "opacity": 1},
                 "encoding": {"x": {"datum": 0.5, "type": "quantitative"}, "y": {"field": "y", "type": "quantitative", "title": "% Growth Inhibition"}}}
              ]
            },
            {
              "width": 209, "height": 170,
              "title": {"text": "BCP-1", "fontSize": 16, "fontWeight": "bold", "offset": -24, "frame": "group", "dx": -30},
              "layer": [
                {"data": {"name": "fit"}, "transform": [{"filter": "datum.panel === 'C' && datum.cell === 'BCP-1'"}],
                 "mark": {"type": "line", "strokeWidth": 2, "color": "black", "interpolate": "monotone"},
                 "encoding": {
                   "x": {"field": "logdose", "type": "quantitative", "scale": {"domain": [-9.6, -2.5], "nice": false, "zero": false}, "axis": {"values": [-9.6, -7.5, -5, -2.5], "labelExpr": "datum.value == -7.5 ? '-7.5' : datum.value == -5 ? '-5.0' : datum.value == -2.5 ? '-2.5' : ''", "title": "Log[Dose]", "titleFontSize": 14, "titleX": 79, "titlePadding": 4, "labelFontSize": 13, "tickSize": 5, "tickWidth": 1.5, "domainWidth": 1.5, "labelPadding": 3}},
                   "y": {"field": "y", "type": "quantitative", "scale": {"domain": [-10, 110], "nice": false}, "axis": null}}},
                {"data": {"name": "dose"}, "transform": [{"filter": "datum.panel === 'C' && datum.cell === 'BCP-1' && isValid(datum.lo)"}],
                 "mark": {"type": "errorbar", "ticks": {"size": 9, "thickness": 1.5}, "thickness": 1.5, "color": "black"},
                 "encoding": {"x": {"field": "logdose", "type": "quantitative"}, "y": {"field": "lo", "type": "quantitative"}, "y2": {"field": "hi"}}},
                {"data": {"name": "dose"}, "transform": [{"filter": "datum.panel === 'C' && datum.cell === 'BCP-1'"}],
                 "mark": {"type": "square", "size": 55, "color": "black", "opacity": 1},
                 "encoding": {"x": {"field": "logdose", "type": "quantitative"}, "y": {"field": "y", "type": "quantitative"}}},
                {"data": {"name": "ic50"}, "transform": [{"filter": "datum.panel === 'C' && datum.cell === 'BCP-1'"}],
                 "mark": {"type": "text", "align": "left", "baseline": "middle", "fontSize": 16, "color": "#333"},
                 "encoding": {"x": {"datum": -6.0, "type": "quantitative"}, "y": {"datum": 32.4, "type": "quantitative"}, "text": {"field": "label"}}}
              ]
            }
          ]
        },
        {
          "spacing": 12, "bounds": "flush",
          "hconcat": [
            {
              "width": 39, "height": 170,
              "data": {"name": "zero"},
              "transform": [{"filter": "datum.panel === 'C' && datum.cell === 'JSC-1'"}],
              "layer": [
                {"mark": {"type": "rule", "strokeWidth": 2, "color": "black"},
                 "encoding": {
                   "x": {"datum": 0.5, "type": "quantitative", "scale": {"domain": [0, 1], "nice": false, "zero": false}, "axis": {"values": [0.5, 1], "labelExpr": "datum.value == 0.5 ? 'Log(0)' : ''", "title": null, "labelFontSize": 13, "tickSize": 5, "tickWidth": 1.5, "domainWidth": 1.5, "labelPadding": 3}},
                   "x2": {"datum": 1},
                   "y": {"field": "fit", "type": "quantitative", "title": "%Growth Inhibition", "scale": {"domain": [-10, 110], "nice": false}, "axis": {"values": [0, 25, 50, 75, 100], "titleFontSize": 14, "labelFontSize": 13, "tickSize": 5, "tickWidth": 1.5, "domainWidth": 1.5, "labelPadding": 2, "titlePadding": 9}}}},
                {"mark": {"type": "square", "size": 55, "color": "black", "opacity": 1},
                 "encoding": {"x": {"datum": 0.5, "type": "quantitative"}, "y": {"field": "y", "type": "quantitative", "title": "%Growth Inhibition"}}}
              ]
            },
            {
              "width": 209, "height": 170,
              "title": {"text": "JSC-1", "fontSize": 16, "fontWeight": "bold", "offset": -24, "frame": "group", "dx": -30},
              "layer": [
                {"data": {"name": "fit"}, "transform": [{"filter": "datum.panel === 'C' && datum.cell === 'JSC-1'"}],
                 "mark": {"type": "line", "strokeWidth": 2, "color": "black", "interpolate": "monotone"},
                 "encoding": {
                   "x": {"field": "logdose", "type": "quantitative", "scale": {"domain": [-9.5, -2.5], "nice": false, "zero": false}, "axis": {"values": [-9.5, -7.5, -5, -2.5], "labelExpr": "datum.value == -7.5 ? '-7.5' : datum.value == -5 ? '-5.0' : datum.value == -2.5 ? '-2.5' : ''", "title": "Log[Dose]", "titleFontSize": 14, "titleX": 79, "titlePadding": 4, "labelFontSize": 13, "tickSize": 5, "tickWidth": 1.5, "domainWidth": 1.5, "labelPadding": 3}},
                   "y": {"field": "y", "type": "quantitative", "scale": {"domain": [-10, 110], "nice": false}, "axis": null}}},
                {"data": {"name": "dose"}, "transform": [{"filter": "datum.panel === 'C' && datum.cell === 'JSC-1' && isValid(datum.lo)"}],
                 "mark": {"type": "errorbar", "ticks": {"size": 9, "thickness": 1.5}, "thickness": 1.5, "color": "black"},
                 "encoding": {"x": {"field": "logdose", "type": "quantitative"}, "y": {"field": "lo", "type": "quantitative"}, "y2": {"field": "hi"}}},
                {"data": {"name": "dose"}, "transform": [{"filter": "datum.panel === 'C' && datum.cell === 'JSC-1'"}],
                 "mark": {"type": "square", "size": 55, "color": "black", "opacity": 1},
                 "encoding": {"x": {"field": "logdose", "type": "quantitative"}, "y": {"field": "y", "type": "quantitative"}}},
                {"data": {"name": "ic50"}, "transform": [{"filter": "datum.panel === 'C' && datum.cell === 'JSC-1'"}],
                 "mark": {"type": "text", "align": "left", "baseline": "middle", "fontSize": 16, "color": "#333"},
                 "encoding": {"x": {"datum": -6.22, "type": "quantitative"}, "y": {"datum": 31.9, "type": "quantitative"}, "text": {"field": "label"}}}
              ]
            }
          ]
        },
        {
          "spacing": 12, "bounds": "flush",
          "hconcat": [
            {
              "width": 39, "height": 170,
              "data": {"name": "zero"},
              "transform": [{"filter": "datum.panel === 'C' && datum.cell === 'BCBL-1'"}],
              "layer": [
                {"mark": {"type": "rule", "strokeWidth": 2, "color": "black"},
                 "encoding": {
                   "x": {"datum": 0.5, "type": "quantitative", "scale": {"domain": [0, 1], "nice": false, "zero": false}, "axis": {"values": [0.5, 1], "labelExpr": "datum.value == 0.5 ? 'Log(0)' : ''", "title": null, "labelFontSize": 13, "tickSize": 5, "tickWidth": 1.5, "domainWidth": 1.5, "labelPadding": 3}},
                   "x2": {"datum": 1},
                   "y": {"field": "fit", "type": "quantitative", "title": "%Growth Inhibition", "scale": {"domain": [-10, 110], "nice": false}, "axis": {"values": [0, 25, 50, 75, 100], "titleFontSize": 14, "labelFontSize": 13, "tickSize": 5, "tickWidth": 1.5, "domainWidth": 1.5, "labelPadding": 2, "titlePadding": 9}}}},
                {"mark": {"type": "square", "size": 55, "color": "black", "opacity": 1},
                 "encoding": {"x": {"datum": 0.5, "type": "quantitative"}, "y": {"field": "y", "type": "quantitative", "title": "%Growth Inhibition"}}}
              ]
            },
            {
              "width": 209, "height": 170,
              "title": {"text": "BCBL-1", "fontSize": 16, "fontWeight": "bold", "offset": -24, "frame": "group", "dx": -30},
              "layer": [
                {"data": {"name": "fit"}, "transform": [{"filter": "datum.panel === 'C' && datum.cell === 'BCBL-1'"}],
                 "mark": {"type": "line", "strokeWidth": 2, "color": "black", "interpolate": "monotone"},
                 "encoding": {
                   "x": {"field": "logdose", "type": "quantitative", "scale": {"domain": [-9.5, -2.5], "nice": false, "zero": false}, "axis": {"values": [-9.5, -7.5, -5, -2.5], "labelExpr": "datum.value == -7.5 ? '-7.5' : datum.value == -5 ? '-5.0' : datum.value == -2.5 ? '-2.5' : ''", "title": "Log[Dose]", "titleFontSize": 14, "titleX": 79, "titlePadding": 4, "labelFontSize": 13, "tickSize": 5, "tickWidth": 1.5, "domainWidth": 1.5, "labelPadding": 3}},
                   "y": {"field": "y", "type": "quantitative", "scale": {"domain": [-10, 110], "nice": false}, "axis": null}}},
                {"data": {"name": "dose"}, "transform": [{"filter": "datum.panel === 'C' && datum.cell === 'BCBL-1' && isValid(datum.lo)"}],
                 "mark": {"type": "errorbar", "ticks": {"size": 9, "thickness": 1.5}, "thickness": 1.5, "color": "black"},
                 "encoding": {"x": {"field": "logdose", "type": "quantitative"}, "y": {"field": "lo", "type": "quantitative"}, "y2": {"field": "hi"}}},
                {"data": {"name": "dose"}, "transform": [{"filter": "datum.panel === 'C' && datum.cell === 'BCBL-1'"}],
                 "mark": {"type": "square", "size": 55, "color": "black", "opacity": 1},
                 "encoding": {"x": {"field": "logdose", "type": "quantitative"}, "y": {"field": "y", "type": "quantitative"}}},
                {"data": {"name": "ic50"}, "transform": [{"filter": "datum.panel === 'C' && datum.cell === 'BCBL-1'"}],
                 "mark": {"type": "text", "align": "left", "baseline": "middle", "fontSize": 16, "color": "#333"},
                 "encoding": {"x": {"datum": -6.32, "type": "quantitative"}, "y": {"datum": 16.5, "type": "quantitative"}, "text": {"field": "label"}}}
              ]
            }
          ]
        }
      ]
    }
  ],
  "spacing": 88
}
